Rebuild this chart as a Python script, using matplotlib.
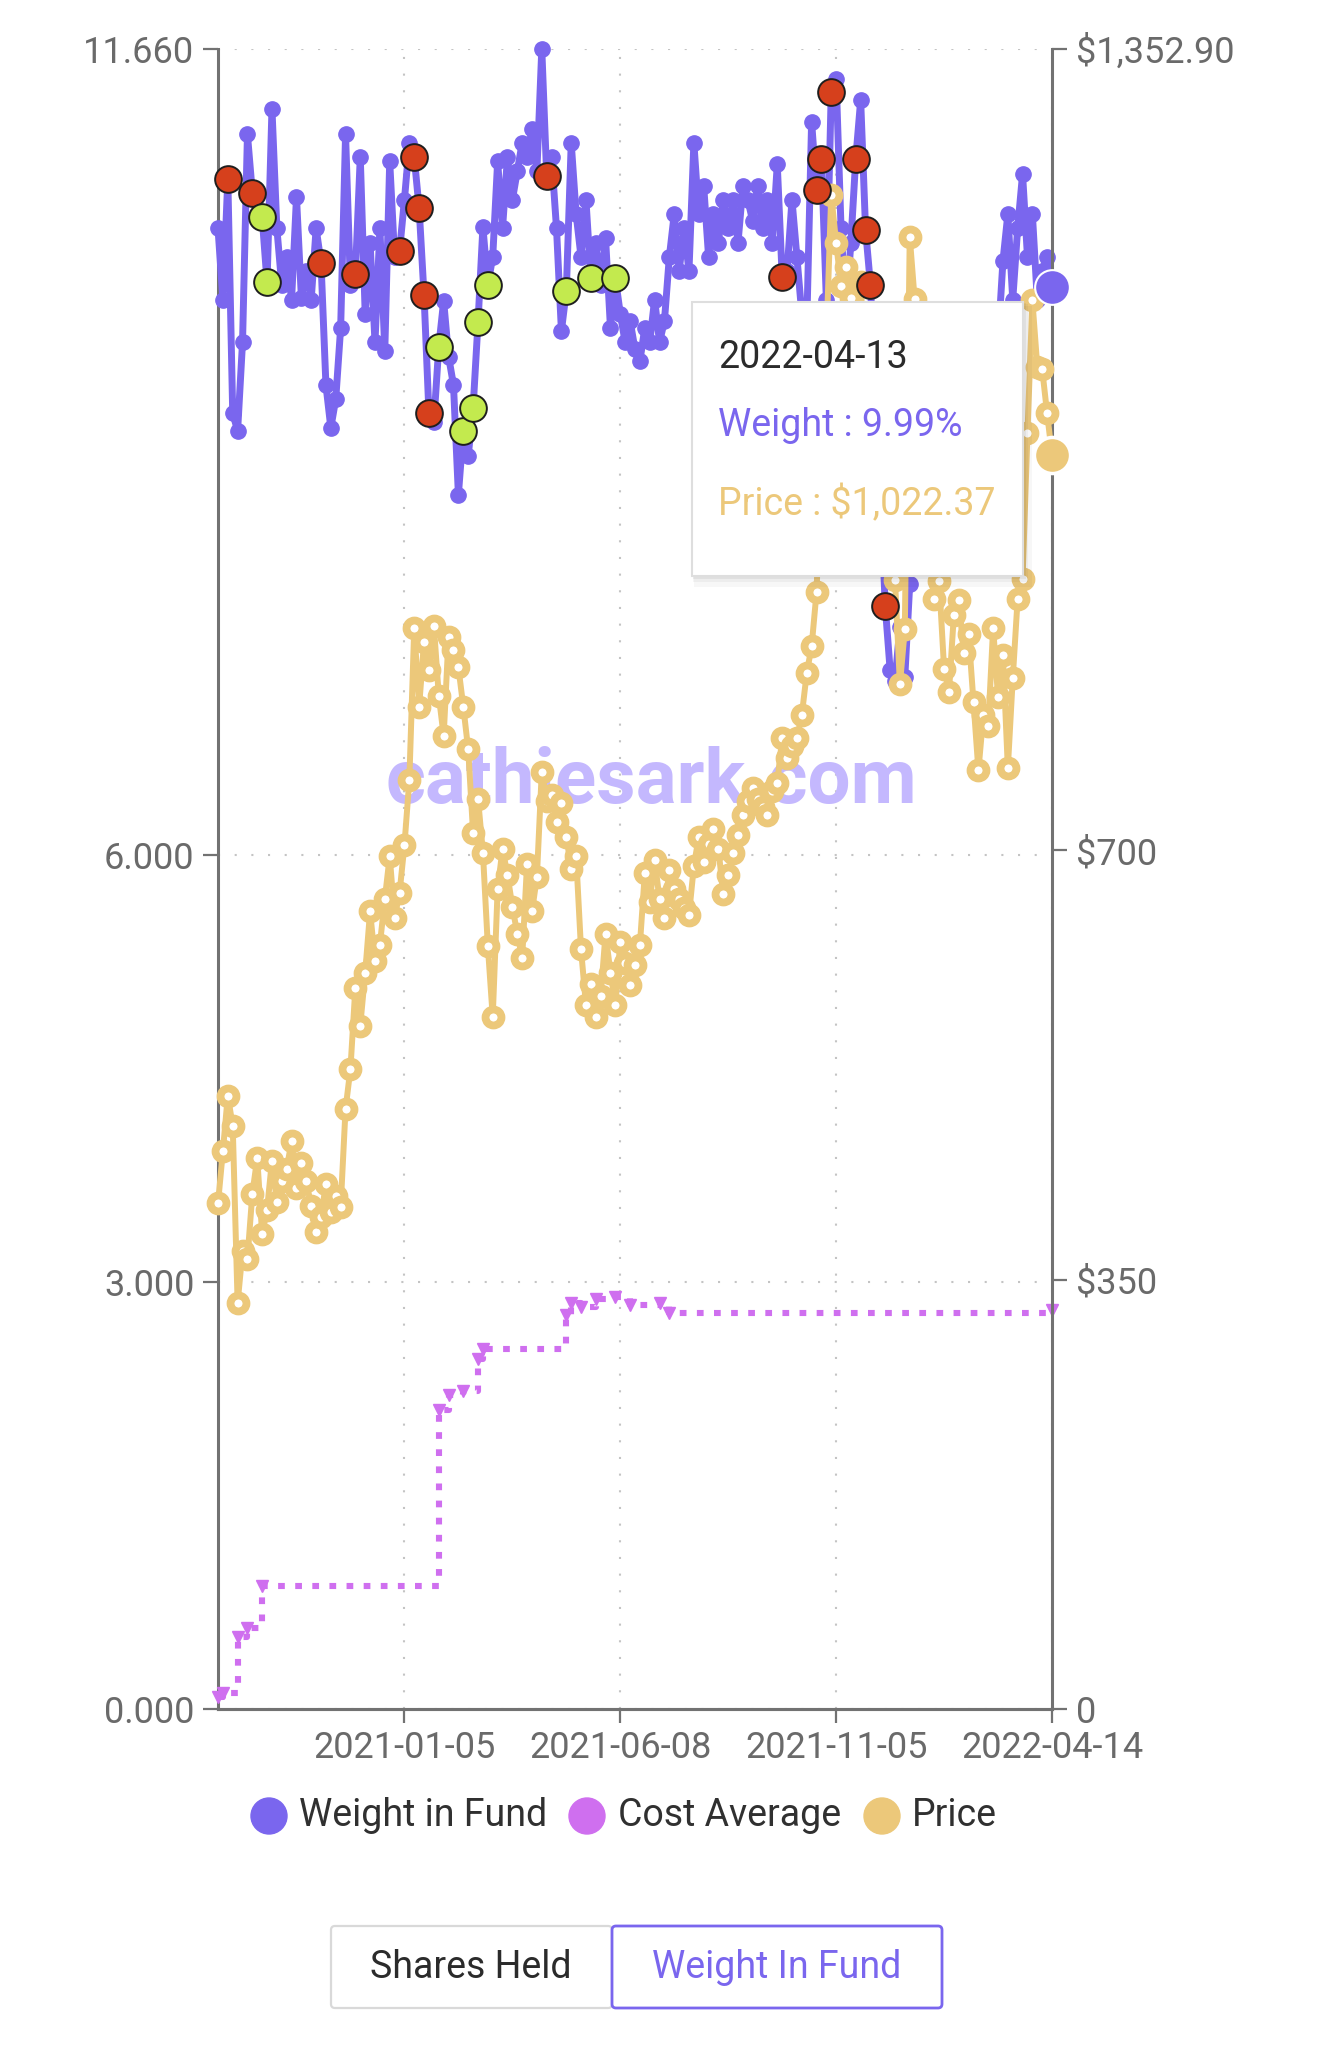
import matplotlib
matplotlib.use("Agg")
import matplotlib.pyplot as plt
import numpy as np
from matplotlib.patches import Rectangle, Circle, FancyBboxPatch

plt.rcParams['font.family'] = ['Roboto', 'DejaVu Sans']

# one point every ~2.5 trading sessions, late Aug 2020 -> 2022-04-13
weight = [10.40, 9.90, 10.75, 9.10, 8.98, 9.60, 11.06, 10.65, 10.50, 10.48,
          10.02, 11.24, 10.40, 10.00, 10.20, 9.90, 10.62, 9.91, 10.10, 9.90,
          10.40, 10.16, 9.30, 9.00, 9.20, 9.70, 11.06, 10.00, 10.08, 10.90,
          9.80, 10.30, 9.60, 10.40, 9.54, 10.87, 10.20, 10.24, 10.60, 11.00,
          10.90, 10.54, 9.93, 9.10, 9.04, 9.57, 9.89, 9.50, 9.30, 8.53,
          8.98, 8.80, 9.14, 9.74, 10.41, 10.00, 10.20, 10.87, 10.40, 10.90,
          10.60, 10.80, 11.00, 10.90, 11.10, 10.80, 11.66, 10.77, 10.90, 10.40,
          9.68, 9.96, 11.00, 10.50, 10.20, 10.60, 10.05, 10.30, 10.00, 10.33,
          9.70, 10.05, 9.80, 9.60, 9.75, 9.55, 9.47, 9.70, 9.60, 9.90,
          9.60, 9.75, 10.20, 10.50, 10.10, 10.40, 10.10, 11.00, 10.50, 10.70,
          10.20, 10.50, 10.30, 10.60, 10.40, 10.60, 10.30, 10.70, 10.60, 10.45,
          10.70, 10.40, 10.60, 10.30, 10.85, 10.06, 10.10, 10.60, 10.20, 9.80,
          9.70, 11.15, 10.67, 10.89, 9.90, 11.36, 11.45, 10.40, 9.80, 10.30,
          10.89, 11.30, 10.39, 10.00, 9.20, 8.60, 7.75, 7.30, 7.22, 7.60,
          7.25, 7.90, 8.60, 9.20, 9.00, 9.40, 8.80, 9.30, 9.60, 9.10,
          9.50, 9.30, 9.70, 9.20, 9.60, 9.40, 9.80, 9.50, 9.70, 9.60,
          10.17, 10.50, 9.90, 10.40, 10.78, 10.20, 10.50, 9.90, 10.10, 10.20,
          9.99]

price = [412, 455, 500, 475, 331, 373, 367, 420, 449, 387,
         407, 447, 413, 430, 440, 463, 425, 445, 430, 410,
         389, 401, 428, 405, 418, 409, 489, 522, 588, 557,
         600, 650, 610, 623, 660, 695, 645, 665, 704, 757,
         881, 817, 870, 847, 883, 826, 793, 874, 863, 849,
         817, 782, 714, 742, 698, 622, 564, 668, 701, 680,
         654, 632, 612, 689, 650, 678, 764, 740, 745, 723,
         738, 711, 685, 695, 619, 574, 591, 564, 581, 632,
         600, 574, 625, 608, 590, 606, 623, 681, 658, 692,
         660, 645, 684, 668, 660, 653, 647, 687, 711, 690,
         705, 717, 701, 664, 680, 698, 712, 729, 740, 751,
         742, 735, 729, 748, 755, 791, 775, 785, 791, 810,
         844, 866, 910, 1019, 1115, 1234, 1195, 1160, 1175, 1150,
         1120, 1163, 1080, 1040, 990, 960, 1000, 950, 920, 835,
         880, 1200, 1149, 1060, 990, 940, 905, 919, 848, 829,
         892, 904, 861, 876, 821, 765, 810, 801, 881, 825,
         859, 767, 840, 905, 921, 1040, 1148, 1094, 1092, 1056,
         1022.37]

# cost average changes (index of change, new value)
cost_idx = [0, 1, 4, 6, 9, 45, 47, 50, 53, 54, 71, 72, 74, 77, 81, 84, 90, 92, 170]
cost_val = [10, 13, 59, 66, 100, 244, 256, 259, 285, 293, 321, 331, 328, 334, 336,
            329, 331, 323, 325]

sell_idx = [2, 7, 21, 28, 37, 40, 41, 42, 43, 67, 115, 122, 123, 125, 130, 132, 133, 136]
buy_idx = [9, 10, 45, 50, 52, 53, 55, 71, 76, 81]

tick_idx = [38, 82, 126, 170]
tick_labels = ['2021-01-05', '2021-06-08', '2021-11-05', '2022-04-14']
weight_ticks = [0, 3, 6, 11.66]
price_ticks = [0, 350, 700, 1352.9]
price_tick_labels = ['0', '$350', '$700', '$1,352.90']
hover_date = '2022-04-13'
legend_labels = ['Weight in Fund', 'Cost Average', 'Price']
button_labels = ['Shares Held', 'Weight In Fund']

PURPLE = '#7a66ee'
SAND = '#ecc87a'
ORCHID = '#cf6fef'
RED = '#d6401c'
LIME = '#c3ea4e'
AXIS = '#727272'
TICKTXT = '#6a6a6a'


def style_axes(ax, ax2, n):
    ax.set_xlim(0, n - 1)
    ax.set_ylim(0, max(weight_ticks))
    ax2.set_ylim(0, max(price_ticks))
    for a in (ax, ax2):
        a.spines['top'].set_visible(False)
        for s in ('left', 'right', 'bottom'):
            a.spines[s].set_color(AXIS)
            a.spines[s].set_linewidth(2.2)
    ax.spines['right'].set_visible(False)
    ax2.spines['left'].set_visible(False)

    ax.set_xticks(tick_idx, labels=tick_labels)
    ax.set_yticks(weight_ticks, labels=[f'{t:.3f}' for t in weight_ticks])
    ax2.set_yticks(price_ticks, labels=price_tick_labels)
    ax.tick_params(axis='y', length=11, width=1.6, color=AXIS, labelcolor=TICKTXT,
                   labelsize=26, pad=6)
    ax.tick_params(axis='x', length=10, width=1.6, color=AXIS, labelcolor=TICKTXT,
                   labelsize=26, pad=5)
    ax2.tick_params(axis='y', length=11, width=1.6, color=AXIS, labelcolor=TICKTXT,
                    labelsize=26, pad=6)
    ax.grid(True, linestyle=(0, (1, 7)), color='#c4c4c4', linewidth=1.5)
    ax.set_axisbelow(True)


def draw_series(ax, ax2):
    x = np.arange(len(weight))
    w = np.array(weight)
    p = np.array(price)

    ax.text(0.52, 0.546, 'cathiesark.com', transform=ax.transAxes, ha='center',
            va='baseline', fontsize=55, fontweight='bold', color='#c4b8fe', zorder=1)

    ax.plot(x, w, color=PURPLE, lw=5.0, marker='o', ms=11, mec=PURPLE,
            clip_on=False, zorder=3)

    ax2.plot(cost_idx, cost_val, drawstyle='steps-post', color=ORCHID, lw=4.4,
             linestyle=(0, (1.1, 1.7)), dash_capstyle='butt', marker='v', ms=9,
             mec=ORCHID, clip_on=False, zorder=2)
    ax2.plot(x, p, color=SAND, lw=4.3, marker='o', ms=11.5, mfc='white', mec=SAND,
             mew=5.6, clip_on=False, zorder=3)

    ax2.scatter(np.array(sell_idx), w[sell_idx], s=370, c=RED, edgecolors='#1e1e1e',
                linewidths=1.4, transform=ax.transData, zorder=5, clip_on=False)
    ax2.scatter(np.array(buy_idx), w[buy_idx], s=370, c=LIME, edgecolors='#1e1e1e',
                linewidths=1.4, transform=ax.transData, zorder=5, clip_on=False)

    # hovered point
    ax2.plot([x[-1]], [w[-1]], 'o', ms=25, mfc=PURPLE, mec='white', mew=1.5,
             transform=ax.transData, clip_on=False, zorder=7)
    ax2.plot([x[-1]], [p[-1]], 'o', ms=26, mfc=SAND, mec='white', mew=2.5,
             clip_on=False, zorder=7)


def draw_overlay(fig):
    ui = fig.add_axes([0, 0, 1, 1])
    ui.set_xlim(0, 1334)
    ui.set_ylim(2048, 0)
    ui.axis('off')

    # tooltip
    for k, a in ((7, 0.03), (4, 0.04), (2, 0.05)):
        ui.add_patch(Rectangle((692 + k * 0.3, 302 + k * 0.6), 331 + k, 274 + k,
                               facecolor='black', edgecolor='none', alpha=a))
    ui.add_patch(Rectangle((692, 302), 331, 274, facecolor='white',
                           edgecolor='#dedede', lw=1.5))
    ui.text(718, 358, hover_date, fontsize=27, color='#2b2b2b', va='center')
    ui.text(718, 426, f'Weight : {weight[-1]:.2f}%', fontsize=27, color=PURPLE,
            va='center')
    ui.text(718, 504, f'Price : ${price[-1]:,.2f}', fontsize=27, color=SAND,
            va='center')

    # legend
    for cx, tx, col, lab in zip((269, 587, 882), (299, 618, 912),
                                (PURPLE, ORCHID, SAND), legend_labels):
        ui.add_patch(Circle((cx, 1816), 18, color=col))
        ui.text(tx, 1816, lab, fontsize=27, color='#303030', va='center')

    # toggle buttons
    ui.add_patch(FancyBboxPatch((331, 1926), 281, 82, boxstyle='round,pad=0,rounding_size=4',
                                facecolor='white', edgecolor='#d9d9d9', lw=1.6))
    ui.add_patch(FancyBboxPatch((612, 1926), 330, 82, boxstyle='round,pad=0,rounding_size=4',
                                facecolor='white', edgecolor=PURPLE, lw=2.0))
    ui.text(471, 1967, button_labels[0], fontsize=27, color='#2b2b2b',
            ha='center', va='center')
    ui.text(777, 1967, button_labels[1], fontsize=27, color=PURPLE,
            ha='center', va='center')


def main():
    fig = plt.figure(figsize=(13.34, 20.48), dpi=100)
    ax = fig.add_axes([218 / 1334, 1 - 1709 / 2048, 834 / 1334, 1660 / 2048])
    ax2 = ax.twinx()
    style_axes(ax, ax2, len(weight))
    draw_series(ax, ax2)
    draw_overlay(fig)
    fig.savefig('out.png', dpi=100, facecolor='white')


if __name__ == "__main__":
    main()
